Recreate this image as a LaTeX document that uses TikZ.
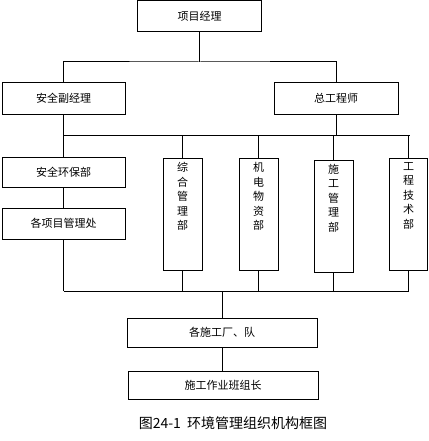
\documentclass[tikz,border=0pt]{standalone}
\usepackage{fontspec}
\newfontfamily\cjk{Noto Sans CJK SC}
\usetikzlibrary{positioning}

\begin{document}
\begin{tikzpicture}[x=1pt,y=-1pt,line width=1pt,font=\cjk\fontsize{11}{14.5}\selectfont,
  box/.style={draw,inner sep=0pt,minimum width=124pt,minimum height=31pt},
  wide/.style={box,minimum width=190pt,minimum height=29pt},
  dept/.style={draw,inner sep=0pt,minimum width=39pt,minimum height=112pt,anchor=north},
  vtext/.style={anchor=north,align=center,inner sep=0pt,yshift=-4pt}]
\useasboundingbox (0,0) rectangle (428,441);
% top levels
\node[box] (pm) at (199.5,16) {项目经理};
\node[box,minimum width=123pt] (vice) at (63.5,98.5) {安全副经理};
\node[box] (chief) at (336,98.5) {总工程师};
% left column
\node[box,minimum width=123pt,minimum height=30pt] (safety) at (63.5,172) {安全环保部};
\node[box,minimum width=123pt] (proj) at (63.5,223.5) {各项目管理处};
% departments
\node[dept,label={[vtext]north:综\\合\\管\\理\\部}] (general) at (182.5,158) {};
\node[dept,label={[vtext]north:机\\电\\物\\资\\部}] (supply) at (258.5,158) {};
\node[dept,label={[vtext]north:施\\工\\管\\理\\部}] (construct) at (333.5,159.5) {};
\node[dept,minimum width=38.5pt,label={[vtext]north:工\\程\\技\\术\\部}] (tech) at (408.5,158) {};
% bottom levels
\node[wide] (team) at (222,332.5) {各施工厂、队};
\node[wide,minimum height=28pt] (group) at (223,385) {施工作业班组长};
\node[font=\cjk\fontsize{14}{16}\selectfont] (caption) at (233,423) {图24-1\hspace{0.45em}环境管理组织机构框图};
% buses
\coordinate (busA) at (pm.south |- 0,62);
\coordinate (busB) at (63.5,135);
\coordinate (busC) at (63.5,291);
\draw (pm.south) -- (busA);
\draw (vice.north) |- (busA) -| (chief.north);
\draw (vice.south) -- (safety.north);
\draw (safety.south) -- (proj.north);
\draw (proj.south) -- (busC);
\draw (chief.south) -- (chief.south |- busB);
\draw (busB) -- ([xshift=1pt]tech.north |- busB);
\draw (busC) -- (tech.south |- busC);
\foreach \d in {general,supply,construct,tech}{
  \draw (\d.north) -- (\d.north |- busB);
  \draw (\d.south) -- (\d.south |- busC);
}
\draw (team.north) -- (team.north |- busC);
\draw (team.south) -- (group.north -| team.south);
\end{tikzpicture}
\end{document}
